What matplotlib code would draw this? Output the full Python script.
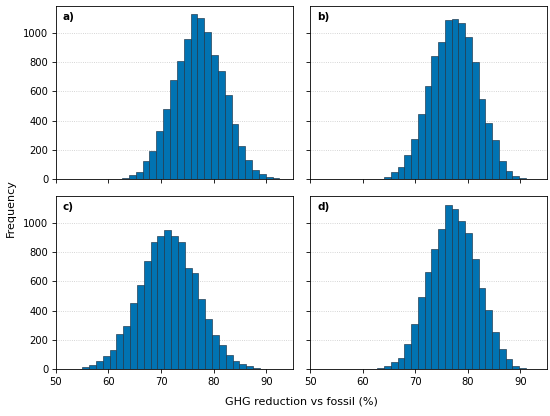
import matplotlib
matplotlib.use("Agg")
import matplotlib.pyplot as plt
import numpy as np

# histogram counts per scenario, 30 bins each
panel_labels = ["a)", "b)", "c)", "d)"]

# (first bin edge, bin width)
bins_a = (53.5, 1.30)
bins_b = (53.8, 1.285)
bins_c = (52.4, 1.30)
bins_d = (53.8, 1.285)

counts_a = [0, 0, 0, 0, 0, 2, 1, 9, 27, 50,
            125, 193, 332, 477, 680, 807, 959, 1125, 1102, 1007,
            850, 739, 575, 375, 230, 130, 61, 34, 16, 9]
counts_b = [0, 0, 0, 0, 0, 0, 0, 2, 14, 48,
            82, 166, 275, 448, 639, 843, 936, 1086, 1095, 1068,
            968, 798, 548, 382, 268, 127, 59, 25, 9, 2]
counts_c = [1, 2, 14, 30, 55, 91, 132, 239, 298, 450,
            577, 739, 864, 909, 952, 905, 864, 691, 657, 480,
            343, 232, 164, 100, 55, 34, 20, 11, 5, 1]
counts_d = [0, 0, 0, 0, 0, 0, 0, 7, 23, 50,
            75, 175, 307, 493, 664, 820, 957, 1116, 1093, 1007,
            930, 750, 557, 405, 255, 136, 70, 25, 11, 5]

all_bins = [bins_a, bins_b, bins_c, bins_d]
all_counts = [counts_a, counts_b, counts_c, counts_d]

fig, axs = plt.subplots(2, 2, figsize=(5.5, 4.16), dpi=100, sharex=True, sharey=True)
fig.subplots_adjust(left=0.1016, right=0.994, top=0.9856, bottom=0.1123,
                    wspace=0.074, hspace=0.096)

for ax, lab, (start, width), counts in zip(axs.flat, panel_labels, all_bins, all_counts):
    counts = np.array(counts, dtype=float)
    edges = start + width * np.arange(len(counts) + 1)
    centers = 0.5 * (edges[:-1] + edges[1:])
    ax.hist(centers, bins=edges, weights=counts, color="#0173b2",
            edgecolor="#1d3447", linewidth=0.45)
    ax.grid(axis="y", linestyle=":", linewidth=0.6, color="#c8c8c8")
    ax.set_axisbelow(True)
    ax.text(0.03, 0.965, lab, transform=ax.transAxes, fontsize=7.5,
            fontweight="bold", va="top", ha="left")
    ax.tick_params(labelsize=7.2, length=3, width=0.6, pad=2.5)
    for s in ax.spines.values():
        s.set_linewidth(0.6)

axs[0, 0].set_xlim(50, 95)
axs[0, 0].set_xticks([50, 60, 70, 80, 90])
axs[0, 0].set_yticks([0, 200, 400, 600, 800, 1000])
axs[0, 0].set_ylim(0, 1181)

fig.supxlabel("GHG reduction vs fossil (%)", fontsize=8, x=0.548, y=0.022)
fig.supylabel("Frequency", fontsize=8, x=0.01)

plt.savefig("out.png", dpi=100)
